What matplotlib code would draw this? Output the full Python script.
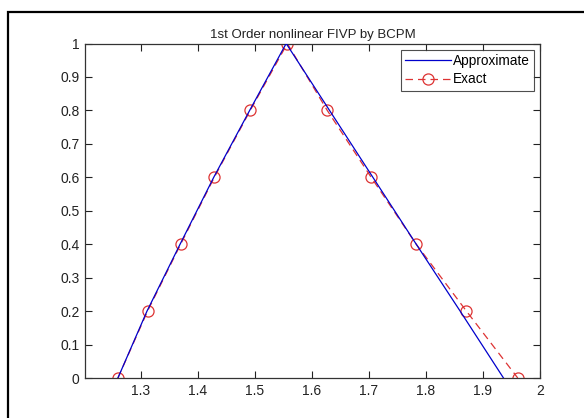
import matplotlib
matplotlib.use("Agg")
import matplotlib.pyplot as plt
from matplotlib.patches import Rectangle

# Data
exact_x = [1.260, 1.312, 1.370, 1.429, 1.492, 1.557, 1.627, 1.704, 1.783, 1.871, 1.961]
exact_y = [0.0, 0.2, 0.4, 0.6, 0.8, 1.0, 0.8, 0.6, 0.4, 0.2, 0.0]
approx_x = [1.260, 1.311, 1.369, 1.428, 1.491, 1.555, 1.631, 1.707, 1.783, 1.860, 1.936]
approx_y = [0.0, 0.2, 0.4, 0.6, 0.8, 1.0, 0.8, 0.6, 0.4, 0.2, 0.0]
xticks = [1.3, 1.4, 1.5, 1.6, 1.7, 1.8, 1.9, 2.0]
xticklabels = ["1.3", "1.4", "1.5", "1.6", "1.7", "1.8", "1.9", "2"]
yticks = [0, 0.1, 0.2, 0.3, 0.4, 0.5, 0.6, 0.7, 0.8, 0.9, 1.0]
yticklabels = ["0", "0.1", "0.2", "0.3", "0.4", "0.5", "0.6", "0.7", "0.8", "0.9", "1"]
title = "1st Order nonlinear FIVP by BCPM"

plt.rcParams['font.family'] = ['Liberation Sans', 'DejaVu Sans']

W, H = 584, 418
fig = plt.figure(figsize=(W / 100, H / 100), dpi=100)
fig.patch.set_facecolor('white')

# Outer frame (extends beyond image on right and bottom)
fig.patches.append(Rectangle((7.5 / W, -0.1), 1.2, (H - 11.5) / H + 0.1,
                             transform=fig.transFigure, fill=False,
                             edgecolor='black', linewidth=1.6))

ax = fig.add_axes([85 / W, (H - 378) / H, (540 - 85) / W, (378 - 43.5) / H])

ax.plot(approx_x, approx_y, color='#0000cc', linewidth=0.9, label='Approximate', zorder=3)
ax.plot(exact_x, exact_y, color='#dd3333', linestyle=(0, (6, 4)), linewidth=0.9,
        marker='o', markersize=8, markerfacecolor='none', markeredgecolor='#dd3333',
        markeredgewidth=0.9, label='Exact', zorder=2)

ax.set_xlim(1.2023, 2.0)
ax.set_ylim(0, 1)
ax.set_xticks(xticks)
ax.set_xticklabels(xticklabels)
ax.set_yticks(yticks)
ax.set_yticklabels(yticklabels)
ax.tick_params(direction='in', length=5, width=0.8, top=True, right=True,
               labelsize=10, colors='#222222', pad=4)
for s in ax.spines.values():
    s.set_color('#333333')
    s.set_linewidth(0.9)

ax.set_title(title, fontsize=9.5, pad=4, color='#222222')

leg = ax.legend(loc='upper right', fontsize=9.8, frameon=True, fancybox=False,
                edgecolor='#222222', handlelength=3.4, handletextpad=0.15,
                borderpad=0.3, labelspacing=0.35, borderaxespad=0.45)
leg.get_frame().set_linewidth(0.8)

fig.savefig("out.png", dpi=100, facecolor='white')
